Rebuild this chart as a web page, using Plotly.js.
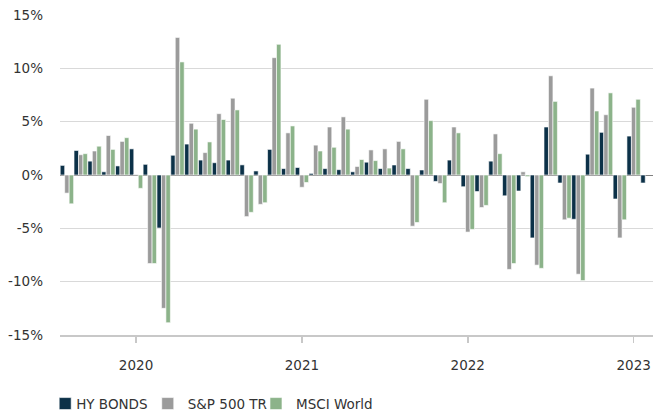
<!DOCTYPE html>
<html>
<head>
<meta charset="utf-8">
<script src="https://cdn.plot.ly/plotly-3.0.1.min.js"></script>
<style>html,body{margin:0;padding:0;background:#fff;}#chart{width:653px;height:414px;}</style>
</head>
<body>
<div id="chart"></div>
<script>
const months = ['2019-08','2019-09','2019-10','2019-11','2019-12',
  '2020-01','2020-02','2020-03','2020-04','2020-05','2020-06','2020-07','2020-08','2020-09','2020-10','2020-11','2020-12',
  '2021-01','2021-02','2021-03','2021-04','2021-05','2021-06','2021-07','2021-08','2021-09','2021-10','2021-11','2021-12',
  '2022-01','2022-02','2022-03','2022-04','2022-05','2022-06','2022-07','2022-08','2022-09','2022-10','2022-11','2022-12',
  '2023-01','2023-02'];
const hyBonds = [0.9,2.3,1.3,0.3,0.85,2.45,1.0,-4.97,1.85,2.9,1.4,1.15,1.4,0.95,0.38,2.4,0.6,0.7,0.15,0.6,0.5,0.3,1.2,0.6,0.94,0.6,0.47,-0.6,1.4,-1.1,-1.55,1.3,-1.95,-1.5,-5.9,4.5,-0.75,-4.15,1.95,4.0,-2.25,3.65,-0.75];
const sp500 = [-1.7,1.9,2.25,3.7,3.15,0.05,-8.3,-12.5,12.9,4.85,2.1,5.75,7.2,-3.9,-2.75,11.0,3.95,-1.15,2.8,4.5,5.45,0.8,2.35,2.45,3.15,-4.8,7.1,-0.8,4.5,-5.35,-3.05,3.85,-8.85,0.3,-8.45,9.3,-4.2,-9.3,8.15,5.65,-5.9,6.35,null];
const msciWorld = [-2.7,2.0,2.7,2.4,3.5,-1.25,-8.3,-13.85,10.6,4.3,3.1,5.2,6.1,-3.5,-2.6,12.25,4.6,-0.7,2.25,2.6,4.3,1.45,1.35,0.65,2.45,-4.45,5.1,-2.6,3.95,-5.1,-2.85,2.0,-8.3,-0.15,-8.75,6.9,-4.05,-9.9,6.0,7.7,-4.2,7.1,null];
const seriesNames = ['HY BONDS','S&P 500 TR','MSCI World'];
const xTickVals = ['2020-01','2021-01','2022-01','2023-01'];
const xTickText = ['2020','2021','2022','2023'];
const yTickVals = [-15,-10,-5,0,5,10,15];
const yTickText = ['-15%','-10%','-5%','0%','5%','10%','15%'];

const colors = ['#0c3148','#9b9b9b','#8cb38a'];
const legendIds = ['legend','legend2','legend3'];
const legendX = [-0.025, 0.148, 0.3305];
const seriesData = [hyBonds, sp500, msciWorld];
const traces = seriesData.map((vals, i) => ({
  type: 'bar', x: months, y: vals, name: seriesNames[i], legend: legendIds[i],
  marker: {color: colors[i], line: {color: '#ffffff', width: 0.6}},
  hoverinfo: 'skip'
}));

const fontFamily = 'DejaVu Sans';
const fontSize = 13.5;
const legendBase = {orientation: 'h', xanchor: 'left', y: -0.215, yanchor: 'middle',
  font: {family: fontFamily, size: fontSize, color: '#333333'}, itemwidth: 30, bgcolor: 'rgba(0,0,0,0)'};

const layout = {
  width: 653, height: 414,
  margin: {l: 60, r: 0, t: 15, b: 79, autoexpand: false},
  paper_bgcolor: '#ffffff', plot_bgcolor: '#ffffff',
  font: {family: fontFamily, size: fontSize, color: '#333333'},
  barmode: 'group', bargap: 0.03, bargroupgap: 0,
  showlegend: true,
  legend: Object.assign({}, legendBase, {x: legendX[0]}),
  legend2: Object.assign({}, legendBase, {x: legendX[1]}),
  legend3: Object.assign({}, legendBase, {x: legendX[2]}),
  xaxis: {
    type: 'category', range: [-0.5, 42.4],
    tickmode: 'array', tickvals: xTickVals, ticktext: xTickText,
    ticks: 'outside', ticklen: 6, tickwidth: 1.5, tickcolor: '#c8c8c8',
    showline: true, linecolor: '#c8c8c8', linewidth: 2,
    showgrid: false, zeroline: false, ticklabelstandoff: 11
  },
  yaxis: {
    range: [-15, 15], tickmode: 'array', tickvals: yTickVals, ticktext: yTickText,
    showgrid: true, gridcolor: '#d9d9d9', gridwidth: 1.5,
    zeroline: true, zerolinecolor: '#808080', zerolinewidth: 1,
    showline: false, ticks: '', ticklabelstandoff: 16
  }
};

Plotly.newPlot('chart', traces, layout, {staticPlot: true, displayModeBar: false}).then(gd => {
  gd.querySelectorAll('text.legendtext').forEach(t => t.setAttribute('x', 31));
});
</script>
</body>
</html>
